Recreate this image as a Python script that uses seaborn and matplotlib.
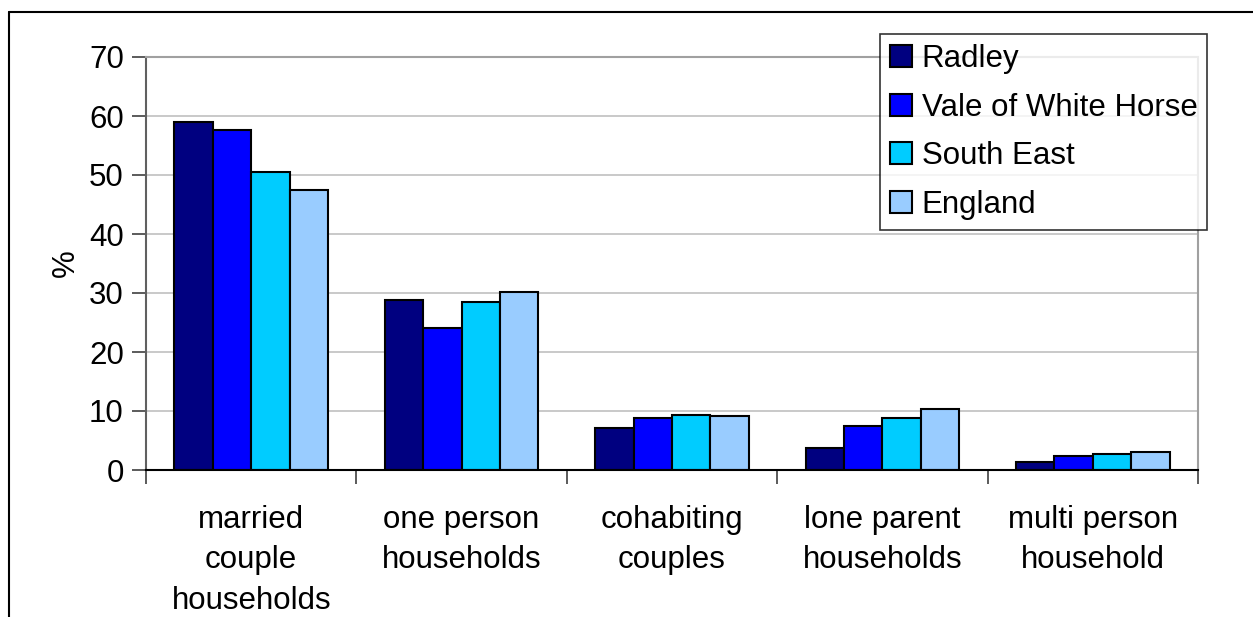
import matplotlib
matplotlib.use("Agg")
import matplotlib.pyplot as plt
import seaborn as sns
import pandas as pd
from matplotlib.lines import Line2D

categories = ["married\ncouple\nhouseholds", "one person\nhouseholds", "cohabiting\ncouples",
              "lone parent\nhouseholds", "multi person\nhousehold"]
series = ["Radley", "Vale of White Horse", "South East", "England"]
radley = [59.0, 28.8, 7.2, 3.8, 1.4]
vale = [57.6, 24.0, 8.8, 7.5, 2.4]
south_east = [50.5, 28.5, 9.4, 8.8, 2.7]
england = [47.4, 30.1, 9.1, 10.4, 3.1]
colors = ["#000080", "#0000FF", "#00CCFF", "#99CCFF"]
yticks = [0, 10, 20, 30, 40, 50, 60, 70]

rows = []
for name, vals in zip(series, [radley, vale, south_east, england]):
    for c, v in zip(categories, vals):
        rows.append({"category": c, "area": name, "value": v})
df = pd.DataFrame(rows)

sns.set_style("white")
plt.rcParams["font.family"] = ["Liberation Sans", "DejaVu Sans"]
plt.rcParams["text.color"] = "black"
plt.rcParams["xtick.color"] = "black"
plt.rcParams["ytick.color"] = "black"
plt.rcParams["axes.labelcolor"] = "black"

FS = 22.5
W, H = 1253, 617
fig = plt.figure(figsize=(W / 100, H / 100), dpi=100)
ax = fig.add_axes([146 / W, (H - 470) / H, 1052 / W, 413 / H])

sns.barplot(data=df, x="category", y="value", hue="area", order=categories,
            hue_order=series, palette=colors, saturation=1, width=0.73, gap=0,
            edgecolor="black", linewidth=1.5, ax=ax, legend=False, errorbar=None)

ax.set_ylim(0, 70)
ax.set_xlim(-0.5, len(categories) - 0.5)
ax.set_yticks(yticks)
ax.set_yticklabels([str(t) for t in yticks], fontsize=FS)
ax.yaxis.grid(True, color="#c0c0c0", linewidth=1.2)
ax.set_axisbelow(True)
ax.tick_params(axis="y", direction="out", length=10, width=1.2, color="#404040",
               labelcolor="black", pad=6, left=True)

ax.set_xticks(range(len(categories)))
ax.set_xticklabels(categories, fontsize=FS, linespacing=1.46)
ax.tick_params(axis="x", length=0, pad=25, labelcolor="black")
ax.set_xticks([i - 0.5 for i in range(len(categories) + 1)], minor=True)
ax.tick_params(axis="x", which="minor", direction="out", length=10, width=1.2,
               color="#404040", bottom=True)

ax.set_xlabel("")
ax.set_ylabel("%", fontsize=FS, labelpad=6, color="black")

for side in ["top", "right"]:
    ax.spines[side].set_color("#a0a0a0")
    ax.spines[side].set_linewidth(1.5)
ax.spines["left"].set_color("#606060")
ax.spines["left"].set_linewidth(1.5)
ax.spines["bottom"].set_color("black")
ax.spines["bottom"].set_linewidth(1.5)

handles = [plt.Rectangle((0, 0), 1, 1, facecolor=c, edgecolor="black", linewidth=1.5) for c in colors]
leg = ax.legend(handles, series, loc="upper left", bbox_to_anchor=(0.698, 1.056),
                fontsize=FS, frameon=True, fancybox=False, handlelength=0.7, handleheight=0.7,
                handletextpad=0.3, labelspacing=0.6, borderpad=0.32, borderaxespad=0)
leg.get_frame().set_edgecolor("black")
leg.get_frame().set_linewidth(1.2)
for t in leg.get_texts():
    t.set_color("black")

fig.add_artist(Line2D([9 / W, 1], [1 - 12 / H, 1 - 12 / H], transform=fig.transFigure,
                      color="black", linewidth=1.5))
fig.add_artist(Line2D([9 / W, 9 / W], [0, 1 - 12 / H], transform=fig.transFigure,
                      color="black", linewidth=1.5))

fig.savefig("out.png", dpi=100)
